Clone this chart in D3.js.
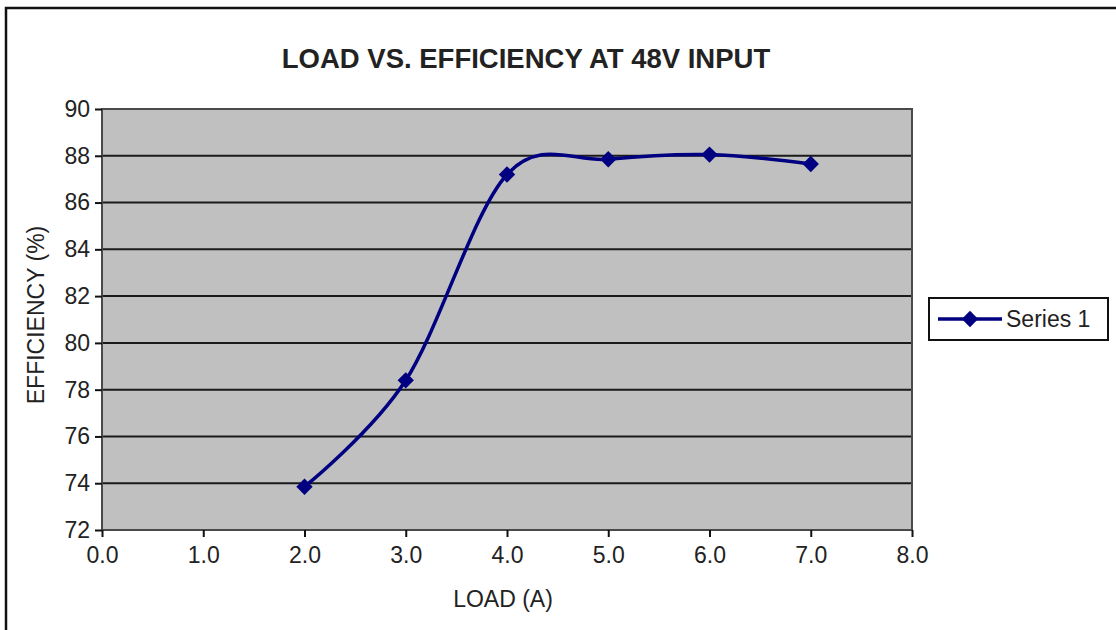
<!DOCTYPE html>
<html>
<head>
<meta charset="utf-8">
<script src="https://cdn.jsdelivr.net/npm/d3@7"></script>
<style>
  body { margin: 0; background: #fff; }
  svg { display: block; font-family: "Liberation Sans", Arial, sans-serif; }
</style>
</head>
<body>
<svg width="1116" height="630"></svg>
<script>
// data
const loads = [2, 3, 4, 5, 6, 7];
const efficiency = [73.85, 78.4, 87.2, 87.85, 88.05, 87.65];
const xTicks = [0, 1, 2, 3, 4, 5, 6, 7, 8];
const yTicks = [72, 74, 76, 78, 80, 82, 84, 86, 88, 90];
const seriesName = 'Series 1';

const svg = d3.select('svg');
const plot = { left: 102, top: 109, right: 912, bottom: 530 };
const navy = '#000080';

// outer frame (runs off the right and bottom of the picture)
svg.append('rect')
  .attr('x', 6).attr('y', 8).attr('width', 1200).attr('height', 700)
  .attr('fill', 'none').attr('stroke', '#111').attr('stroke-width', 2.5);

const x = d3.scaleLinear().domain([0, 8]).range([plot.left, plot.right]);
const y = d3.scaleLinear().domain([72, 90]).range([plot.bottom, plot.top]);

// title
svg.append('text')
  .attr('x', 526).attr('y', 68)
  .attr('text-anchor', 'middle')
  .attr('font-size', 27.5).attr('font-weight', 'bold').attr('fill', '#222')
  .text('LOAD VS. EFFICIENCY AT 48V INPUT');

// plot background
svg.append('rect')
  .attr('x', plot.left).attr('y', plot.top)
  .attr('width', plot.right - plot.left).attr('height', plot.bottom - plot.top)
  .attr('fill', '#c0c0c0');

// gridlines
svg.append('g').selectAll('line')
  .data(yTicks.slice(1, -1))
  .join('line')
  .attr('x1', plot.left).attr('x2', plot.right)
  .attr('y1', d => y(d)).attr('y2', d => y(d))
  .attr('stroke', '#1a1a1a').attr('stroke-width', 2);

// plot border
svg.append('rect')
  .attr('x', plot.left).attr('y', plot.top)
  .attr('width', plot.right - plot.left).attr('height', plot.bottom - plot.top)
  .attr('fill', 'none').attr('stroke', '#4a4a4a').attr('stroke-width', 2);

// axes
const yAxis = svg.append('g')
  .attr('transform', 'translate(' + plot.left + ',0)')
  .call(d3.axisLeft(y).tickValues(yTicks).tickSize(7).tickPadding(5));
const xAxis = svg.append('g')
  .attr('transform', 'translate(0,' + plot.bottom + ')')
  .call(d3.axisBottom(x).tickValues(xTicks).tickFormat(d3.format('.1f')).tickSize(7).tickPadding(10));

[xAxis, yAxis].forEach(function(axis) {
  axis.select('.domain').remove();
  axis.selectAll('line').attr('stroke', '#111').attr('stroke-width', 2);
  axis.selectAll('text')
    .attr('font-family', '"Liberation Sans", Arial, sans-serif')
    .attr('font-size', 23).attr('fill', '#222');
});

// axis titles
svg.append('text')
  .attr('x', 503).attr('y', 607)
  .attr('text-anchor', 'middle')
  .attr('font-size', 23).attr('fill', '#222')
  .text('LOAD (A)');
svg.append('text')
  .attr('transform', 'translate(44,315) rotate(-90)')
  .attr('text-anchor', 'middle')
  .attr('font-size', 23).attr('fill', '#222')
  .text('EFFICIENCY (%)');

// smoothed series line (Excel style)
const points = loads.map((d, i) => [d, efficiency[i]]);
const line = d3.line()
  .x(d => x(d[0])).y(d => y(d[1]))
  .curve(d3.curveCardinal.tension(0));

svg.append('path')
  .datum(points)
  .attr('d', line)
  .attr('fill', 'none').attr('stroke', navy).attr('stroke-width', 3.5);

const diamond = d3.symbol().type(d3.symbolDiamond2).size(170);
svg.append('g').selectAll('path')
  .data(points)
  .join('path')
  .attr('transform', d => 'translate(' + x(d[0]) + ',' + y(d[1]) + ')')
  .attr('d', diamond)
  .attr('fill', navy);

// legend
const legend = svg.append('g');
legend.append('rect')
  .attr('x', 929).attr('y', 298).attr('width', 179).attr('height', 42)
  .attr('fill', '#fff').attr('stroke', '#111').attr('stroke-width', 2);
legend.append('line')
  .attr('x1', 938).attr('x2', 1002).attr('y1', 319).attr('y2', 319)
  .attr('stroke', navy).attr('stroke-width', 3.5);
legend.append('path')
  .attr('transform', 'translate(970,319)')
  .attr('d', diamond)
  .attr('fill', navy);
legend.append('text')
  .attr('x', 1006).attr('y', 327)
  .attr('font-size', 23).attr('fill', '#222')
  .text(seriesName);
</script>
</body>
</html>
